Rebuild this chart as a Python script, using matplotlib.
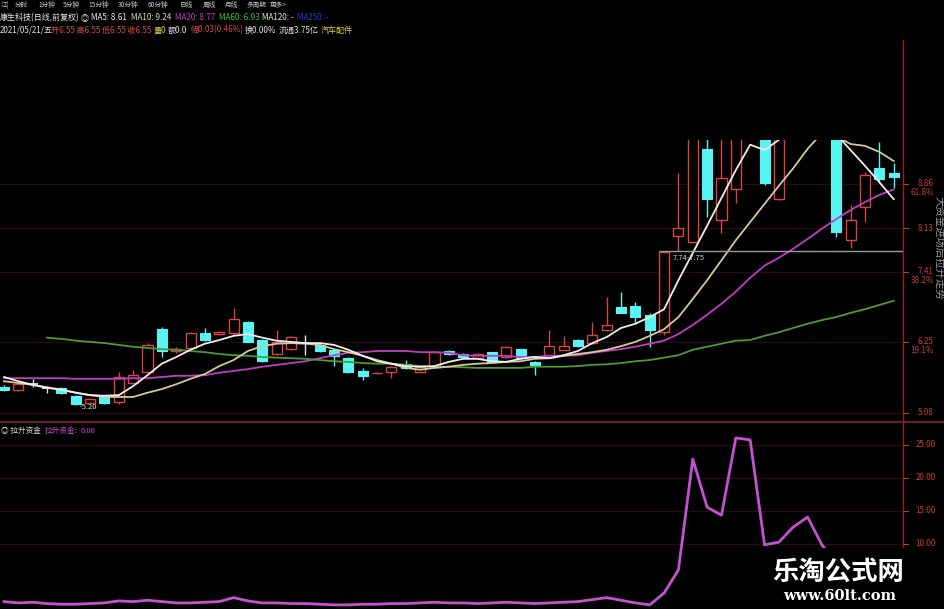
import matplotlib
matplotlib.use('Agg')
import matplotlib.pyplot as plt
from matplotlib.patches import Rectangle
from matplotlib.lines import Line2D

plt.rcParams['font.family'] = ['Noto Sans CJK SC', 'DejaVu Sans']

# ---------------- data ----------------
opens  = [5.50, 5.45, 5.56, 5.49, 5.49, 5.36, 5.24, 5.34, 5.26, 5.57,
          5.75, 6.46, 6.10, 6.15, 6.40, 6.38, 6.40, 6.58, 6.28, 6.05,
          6.13, 6.23, 6.20, 6.12, 5.98, 5.77, 5.73, 5.75, 5.89, 5.75,
          5.84, 6.10, 6.05, 5.98, 6.08, 6.00, 6.13, 5.92, 6.03, 6.12,
          6.28, 6.23, 6.45, 6.83, 6.84, 6.70, 6.41, 8.00, 7.90, 9.44,
          8.27, 8.78, 9.85, 9.75, 8.61, 9.95, 10.10, 10.40, 10.10, 7.93,
          8.48, 9.12, 9.04]
highs  = [5.54, 5.59, 5.63, 5.52, 5.50, 5.37, 5.33, 5.36, 5.75, 5.79,
          6.23, 6.50, 6.16, 6.42, 6.48, 6.43, 6.81, 6.60, 6.30, 6.45,
          6.35, 6.36, 6.22, 6.13, 6.00, 5.82, 5.75, 5.85, 5.95, 5.85,
          6.10, 6.11, 6.06, 6.06, 6.09, 6.18, 6.14, 5.93, 6.45, 6.35,
          6.30, 6.58, 6.99, 7.08, 6.91, 6.72, 7.74, 9.04, 9.78, 9.80,
          9.70, 9.95, 10.40, 9.90, 10.00, 10.30, 10.60, 10.50, 10.30, 8.51,
          9.05, 9.55, 9.21]
lows   = [5.44, 5.44, 5.50, 5.40, 5.39, 5.20, 5.22, 5.23, 5.22, 5.55,
          5.72, 6.00, 6.07, 6.13, 6.26, 6.36, 6.38, 6.24, 5.92, 6.04,
          6.12, 6.03, 6.09, 5.85, 5.74, 5.62, 5.72, 5.65, 5.81, 5.74,
          5.83, 6.04, 5.99, 5.97, 5.91, 5.99, 5.97, 5.70, 6.02, 6.11,
          6.17, 6.22, 6.43, 6.72, 6.56, 6.17, 6.36, 7.75, 7.88, 8.32,
          8.05, 8.55, 9.70, 8.85, 8.60, 9.80, 10.00, 9.80, 7.98, 7.80,
          8.23, 8.88, 8.79]
closes = [5.45, 5.55, 5.56, 5.49, 5.41, 5.22, 5.31, 5.24, 5.67, 5.70,
          6.20, 6.10, 6.13, 6.40, 6.28, 6.41, 6.63, 6.25, 5.93, 6.25,
          6.33, 6.23, 6.10, 6.02, 5.75, 5.69, 5.74, 5.84, 5.82, 5.84,
          6.08, 6.05, 6.00, 6.05, 5.92, 6.17, 5.98, 5.87, 6.18, 6.18,
          6.18, 6.36, 6.53, 6.73, 6.66, 6.45, 7.74, 8.13, 9.70, 8.61,
          8.96, 9.85, 10.25, 8.87, 9.90, 10.10, 10.40, 9.90, 8.07, 8.26,
          9.01, 8.94, 8.98]

ma5  = [5.67, 5.60, 5.54, 5.49, 5.46, 5.41, 5.37, 5.36, 5.37, 5.52,
        5.70, 5.89, 6.00, 6.12, 6.22, 6.28, 6.35, 6.38, 6.32, 6.27,
        6.25, 6.23, 6.23, 6.20, 6.12, 6.02, 5.93, 5.89, 5.85, 5.84,
        5.85, 5.92, 5.97, 5.97, 5.93, 5.92, 5.97, 6.00, 5.98, 6.03,
        6.10, 6.23, 6.33, 6.48, 6.55, 6.66, 6.79, 7.27, 7.72, 8.17,
        8.63, 9.09, 9.51, 9.42, 9.59, 9.80, 9.95, 9.85, 9.68, 9.42,
        9.16, 8.89, 8.61]
ma10 = [5.60, 5.57, 5.54, 5.50, 5.46, 5.41, 5.37, 5.34, 5.34, 5.34,
        5.41, 5.47, 5.55, 5.64, 5.72, 5.85, 5.95, 6.10, 6.18, 6.22,
        6.23, 6.22, 6.20, 6.13, 6.08, 6.02, 5.95, 5.89, 5.82, 5.79,
        5.82, 5.84, 5.87, 5.89, 5.90, 5.92, 5.93, 5.97, 5.98, 6.02,
        6.05, 6.08, 6.12, 6.18, 6.25, 6.35, 6.46, 6.66, 6.96, 7.27,
        7.60, 7.93, 8.23, 8.53, 8.83, 9.12, 9.44, 9.70, 9.65, 9.52,
        9.49, 9.39, 9.24]
ma20 = [5.65, 5.65, 5.65, 5.65, 5.65, 5.64, 5.64, 5.64, 5.64, 5.65,
        5.65, 5.67, 5.69, 5.69, 5.70, 5.74, 5.77, 5.80, 5.84, 5.87,
        5.90, 5.93, 5.98, 6.03, 6.07, 6.08, 6.10, 6.10, 6.10, 6.08,
        6.08, 6.07, 6.03, 6.02, 6.02, 6.02, 6.00, 6.00, 6.02, 6.02,
        6.03, 6.07, 6.10, 6.13, 6.17, 6.22, 6.27, 6.38, 6.53, 6.70,
        6.88, 7.08, 7.31, 7.51, 7.64, 7.79, 7.95, 8.12, 8.28, 8.43,
        8.56, 8.68, 8.77]
ma60_start = 3
ma60 = [6.32, 6.30, 6.27, 6.25, 6.23, 6.20, 6.17, 6.15, 6.13, 6.12,
        6.10, 6.08, 6.05, 6.03, 6.02, 6.00, 5.99, 5.98, 5.97, 5.95,
        5.93, 5.92, 5.90, 5.89, 5.89, 5.87, 5.85, 5.84, 5.84, 5.83,
        5.82, 5.82, 5.82, 5.82, 5.84, 5.84, 5.84, 5.85, 5.87, 5.88,
        5.90, 5.93, 5.95, 5.99, 6.03, 6.12, 6.17, 6.22, 6.27, 6.28,
        6.35, 6.41, 6.48, 6.55, 6.61, 6.66, 6.73, 6.79, 6.86, 6.93]

lift = [1.2, 1.0, 1.1, 0.9, 0.8, 0.8, 0.9, 1.0, 1.3, 1.2,
        1.4, 1.2, 1.0, 1.0, 1.1, 1.2, 1.8, 1.3, 1.0, 1.0,
        0.9, 0.9, 0.8, 0.7, 0.7, 0.8, 0.8, 0.9, 0.9, 1.0,
        1.1, 1.0, 1.0, 0.9, 1.0, 1.1, 1.0, 0.9, 1.0, 1.1,
        1.2, 1.5, 1.8, 1.4, 1.0, 0.7, 2.5, 6.0, 22.8, 15.5,
        14.3, 26.0, 25.7, 9.8, 10.2, 12.5, 14.0, 9.8, 7.0, 5.5,
        4.0, 3.0, 2.5]

price_levels = [8.86, 8.13, 7.41, 6.25, 5.08]
price_labels = ['8.86', '8.13', '7.41', '6.25', '5.08']
pct_labels   = ['61.8%', '', '38.2%', '19.1%', '']
lift_levels  = [25, 20, 15, 10]
lift_labels  = ['25.00', '20.00', '15.00', '10.00']
low_mark = (5, 5.20)
gap_low, gap_high, gap_start = 7.74, 7.75, 46
side_note = '大资金进场后拉升走势'

# ---------------- figure ----------------
W, H = 945, 609
fig = plt.figure(figsize=(9.45, 6.09), dpi=100, facecolor='black')


def rect(x0, y0, x1, y1):
    return [x0 / W, 1 - y1 / H, (x1 - x0) / W, (y1 - y0) / H]


ax = fig.add_axes(rect(0, 140, 903, 420))
ax2 = fig.add_axes(rect(0, 423, 903, 609))
xl = (-0.28, 62.65)
for a in (ax, ax2):
    a.set_facecolor('black')
    a.set_xlim(*xl)
    a.set_xticks([])
    a.set_yticks([])
    for s in a.spines.values():
        s.set_visible(False)
ax.set_ylim(4.959, 9.587)
ax2.set_ylim(0.076, 28.26)

grid_c = '#2a0b10'
lab_c = '#c83c3c'
for lv in price_levels:
    ax.axhline(lv, color=grid_c, lw=0.8, zorder=0)
for lv in lift_levels:
    ax2.axhline(lv, color=grid_c, lw=0.8, zorder=0)

# candles
up_c = '#d84444'
dn_c = '#58f4f4'
bw = 0.7
for i in range(len(opens)):
    o, h, l, c = opens[i], highs[i], lows[i], closes[i]
    if c > o:
        ax.add_patch(Rectangle((i - bw / 2, o), bw, c - o, facecolor='black',
                               edgecolor=up_c, lw=1.0, zorder=2))
        ax.vlines(i, c, h, color=up_c, lw=1.0, zorder=2)
        ax.vlines(i, l, o, color=up_c, lw=1.0, zorder=2)
    elif c < o:
        ax.vlines(i, l, h, color=dn_c, lw=1.0, zorder=2)
        ax.add_patch(Rectangle((i - bw / 2, c), bw, o - c, facecolor=dn_c,
                               edgecolor=dn_c, lw=0.8, zorder=2))
    else:
        ax.vlines(i, l, h, color='#e8e8e8', lw=1.0, zorder=2)
        ax.hlines(o, i - bw / 2, i + bw / 2, color='#e8e8e8', lw=1.3, zorder=2)

xs = list(range(len(closes)))
ax.plot(xs, ma20, color='#c23cc2', lw=1.3, zorder=3)
ax.plot(list(range(ma60_start, ma60_start + len(ma60))), ma60, color='#4e9a36', lw=1.3, zorder=3)
ax.plot(xs, ma10, color='#d6c89a', lw=1.3, zorder=3)
ax.plot(xs, ma5, color='#eeeeee', lw=1.3, zorder=3)

# low mark
ax.text(low_mark[0] + 0.25, low_mark[1] - 0.03, '-' + f'{low_mark[1]:.2f}', color='#e0e0e0',
        fontsize=5.5, va='center', ha='left', zorder=4)

# gap line
ax.hlines((gap_low + gap_high) / 2, gap_start - bw / 2, xl[1], color='#9a9a9a', lw=1.0, zorder=4)
ax.text(gap_start + 0.6, 7.64, f'{gap_low:.2f}-{gap_high:.2f}', color='#d0d0d0', fontsize=5.5,
        va='center', ha='left', zorder=4)

# right axis labels
ytr = ax.get_yaxis_transform()
for lv, lb, pc in zip(price_levels, price_labels, pct_labels):
    ax.text(1.034, lv, lb, transform=ytr, color=lab_c, fontsize=5.8, ha='right', va='center', clip_on=False)
    ax.add_line(Line2D([1.0, 1.005], [lv, lv], transform=ytr, color=lab_c, lw=0.8, clip_on=False))
    if pc:
        ax.annotate(pc, xy=(1.034, lv), xycoords=ytr, xytext=(0, -6), textcoords='offset points',
                    color=lab_c, fontsize=5.8, ha='right', va='center', annotation_clip=False)

ytr2 = ax2.get_yaxis_transform()
for lv, lb in zip(lift_levels, lift_labels):
    ax2.text(1.036, lv, lb, transform=ytr2, color=lab_c, fontsize=5.8, ha='right', va='center', clip_on=False)
    ax2.add_line(Line2D([1.0, 1.005], [lv, lv], transform=ytr2, color=lab_c, lw=0.8, clip_on=False))

# lower indicator
ax2.plot(xs, lift, color='#c452d0', lw=2.0, zorder=3)

# frame lines
fig.add_artist(Line2D([903.5 / W, 903.5 / W], [0, 1 - 40 / H], color='#9a1c28', lw=1.0))
fig.add_artist(Line2D([0, 1], [1 - 422 / H, 1 - 422 / H], color='#8a1c3a', lw=1.2))

# side vertical note
fig.text(938.5 / W, 1 - 248 / H, side_note, rotation=270, color='#9a9a9a', fontsize=7.5,
         ha='center', va='center')

# header texts
def ftext(x, y, s, color, size=5.8, **kw):
    fig.text(x / W, 1 - y / H, s, color=color, fontsize=size, va='center', ha='left', **kw)

tab_c = '#c8c8c8'
for x, s in [(1, '江|'), (15, '分时'), (38, '1分钟'), (63, '5分钟'), (88, '15分钟'), (118, '30分钟'),
             (148, '60分钟'), (180, '日线'), (203, '周线'), (225, '月线'), (247, '多周期'), (270, '更多>')]:
    ftext(x, 5, s, tab_c, size=4.8)

for x, s, c in [(0, '康生科技(日线,前复权)', '#e8e8e8'), (81, '◎', '#e8e8e8'),
                (91, 'MA5: 8.61', '#eeeeee'), (131, 'MA10: 9.24', '#e0d8b0'),
                (175, 'MA20: 8.77', '#c040c0'), (219, 'MA60: 6.93', '#40c040'),
                (262, 'MA120: -', '#e8e8e8'), (297, 'MA250: -', '#2a3ad0')]:
    ftext(x, 18, s, c)

for x, s, c in [(0, '2021/05/21/五', '#e0e0e0'), (51, '开6.55 高6.55 低6.55 收6.55', '#d04848'),
                (154, '量0', '#d8d040'), (168, '额0.0', '#e0e0e0'), (190, '幅0.03(0.46%)', '#d04848'),
                (245, '换0.00%', '#e0e0e0'), (279, '流通3.75亿', '#e0e0e0'), (321, '汽车配件', '#d8d040')]:
    ftext(x, 30, s, c)

for x, s, c in [(1, '◎ 拉升资金', '#d8d8d8'), (45, '拉升资金:', '#c050d0'), (81, '0.00', '#c050d0')]:
    ftext(x, 431, s, c, size=5.5)

# watermark
fig.add_artist(Rectangle((760 / W, 0), (W - 760) / W, (609 - 548) / H, transform=fig.transFigure,
                         facecolor='black', edgecolor='none', zorder=10))
fig.text(838 / W, 1 - 572 / H, '乐淘公式网', color='white', fontsize=19, fontweight='bold',
         ha='center', va='center', zorder=11)
fig.text(840 / W, 1 - 596 / H, 'www.60lt.com', color='white', fontsize=10.5, fontweight='bold',
         family='DejaVu Serif', ha='center', va='center', zorder=11)

fig.savefig('out.png', dpi=100, facecolor='black')
